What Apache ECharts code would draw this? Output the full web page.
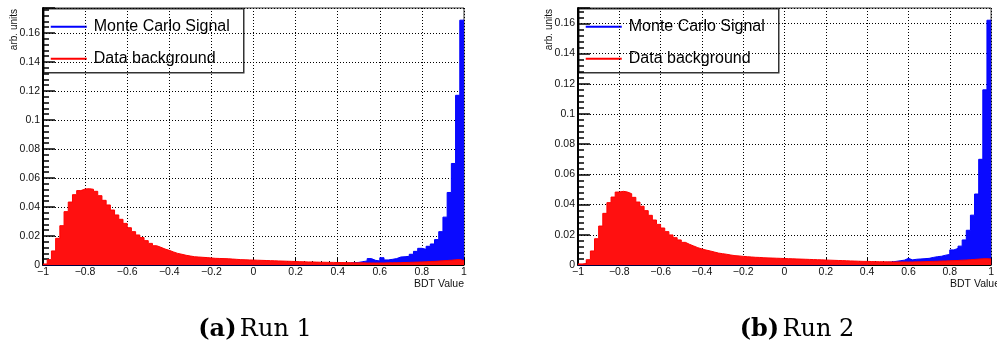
<!DOCTYPE html>
<html><head><meta charset="utf-8">
<script src="https://cdn.jsdelivr.net/npm/echarts@6/dist/echarts.min.js"></script>
<style>html,body{margin:0;padding:0;background:#fff}#c{width:997px;height:343px}</style>
</head><body><div id="c"></div>
<script>
// ---- data (bin contents, 100 bins of width 0.02 from -1 to 1) ----
const binLow = -1, binWidth = 0.02;
const xTicks = [-1, -0.8, -0.6, -0.4, -0.2, 0, 0.2, 0.4, 0.6, 0.8, 1];
const yTicks = [0, 0.02, 0.04, 0.06, 0.08, 0.1, 0.12, 0.14, 0.16];

const run1Background = [
 0.0007,0.0037,0.0097,0.0184,0.0271,0.0368,0.0434,0.0485,0.0513,0.0524,
 0.0526,0.0522,0.0508,0.0478,0.0446,0.0414,0.0379,0.0345,0.0315,0.0287,
 0.0257,0.0230,0.0207,0.0189,0.0168,0.0149,0.0133,0.0122,0.0110,0.0101,
 0.0090,0.0080,0.0074,0.0067,0.0062,0.0057,0.0055,0.0053,0.0051,0.0048,
 0.0046,0.0045,0.0044,0.0043,0.0041,0.0039,0.0037,0.0036,0.0035,0.0034,
 0.0033,0.0032,0.0031,0.0030,0.0029,0.0028,0.0027,0.0026,0.0025,0.0024,
 0.0023,0.0022,0.0021,0.0021,0.0020,0.0019,0.0019,0.0018,0.0018,0.0017,
 0.0017,0.0016,0.0016,0.0015,0.0015,0.0015,0.0014,0.0014,0.0014,0.0014,
 0.0014,0.0015,0.0015,0.0016,0.0016,0.0017,0.0018,0.0019,0.0020,0.0021,
 0.0022,0.0024,0.0025,0.0027,0.0029,0.0031,0.0033,0.0036,0.0038,0.0030];
const run1Signal = [
 0,0,0,0,0,0,0,0,0,0, 0,0,0,0,0,0,0,0,0,0,
 0,0,0,0,0,0,0,0,0,0, 0,0,0,0,0,0,0,0,0,0,
 0,0,0,0,0,0,0,0,0,0, 0,0,0,0,0,0,0,0,0,0,
 0,0,0,0,0,0,0,0,0,0,
 0.0009,0.0011,0.0014,0.0016,0.0018,0.0023,0.0028,0.0044,0.0032,0.0028,
 0.0050,0.0035,0.0039,0.0044,0.0055,0.0057,0.0060,0.0074,0.0094,0.0115,
 0.0108,0.0129,0.0145,0.0175,0.0230,0.0330,0.0500,0.0700,0.1170,0.1688];

const run2Background = [
 0.0007,0.0010,0.0035,0.0093,0.0174,0.0258,0.0342,0.0413,0.0450,0.0483,
 0.0488,0.0483,0.0472,0.0448,0.0417,0.0389,0.0360,0.0329,0.0298,0.0269,
 0.0245,0.0221,0.0199,0.0181,0.0166,0.0150,0.0137,0.0126,0.0115,0.0106,
 0.0099,0.0093,0.0086,0.0079,0.0075,0.0071,0.0066,0.0062,0.0060,0.0057,
 0.0055,0.0053,0.0051,0.0050,0.0048,0.0047,0.0046,0.0045,0.0044,0.0043,
 0.0042,0.0041,0.0040,0.0039,0.0038,0.0037,0.0036,0.0035,0.0034,0.0033,
 0.0032,0.0031,0.0030,0.0029,0.0028,0.0027,0.0026,0.0025,0.0024,0.0024,
 0.0023,0.0022,0.0022,0.0021,0.0021,0.0020,0.0020,0.0020,0.0020,0.0020,
 0.0020,0.0021,0.0021,0.0022,0.0023,0.0024,0.0025,0.0026,0.0027,0.0028,
 0.0029,0.0030,0.0032,0.0033,0.0035,0.0037,0.0039,0.0041,0.0042,0.0040];
const run2Signal = [
 0,0,0,0,0,0,0,0,0,0, 0,0,0,0,0,0,0,0,0,0,
 0,0,0,0,0,0,0,0,0,0, 0,0,0,0,0,0,0,0,0,0,
 0,0,0,0,0,0,0,0,0,0, 0,0,0,0,0,0,0,0,0,0,
 0,0,0,0,0,0,0,0,0,0,
 0.0010,0.0012,0.0014,0.0016,0.0018,0.0020,0.0024,0.0028,0.0032,0.0044,
 0.0034,0.0038,0.0040,0.0042,0.0044,0.0050,0.0055,0.0058,0.0065,0.0070,
 0.0100,0.0110,0.0125,0.0166,0.0230,0.0330,0.0470,0.0700,0.1160,0.1621];

const seriesNames = ['Monte Carlo Signal', 'Data background'];
const captions = [['(a)', 'Run 1'], ['(b)', 'Run 2']];
const axisTitleX = 'BDT Value';
const axisTitleY = 'arb. units';

// ---- chart ----
const chart = echarts.init(document.getElementById('c'), null, {renderer: 'canvas'});
const FONT = 'Liberation Sans';

function stepData(vals) {
  const d = vals.map((v, i) => [binLow + binWidth * i, v]);
  d.push([binLow + binWidth * vals.length, vals[vals.length - 1]]);
  return d;
}
function fmtNum(v) {
  const s = String(+v.toFixed(4));
  return s.replace('-', '\u2212');
}

const panels = [
  {left: 43, width: 421, ymax: 0.1772, sig: run1Signal, bkg: run1Background},
  {left: 578, width: 422, ymax: 0.1702, sig: run2Signal, bkg: run2Background}
];

const grid = [], xAxis = [], yAxis = [], series = [];
panels.forEach((p, i) => {
  grid.push({left: p.left, top: 8, width: p.width, height: 257, show: true,
    borderColor: '#333', borderWidth: 1, backgroundColor: 'transparent'});
  xAxis.push({type: 'value', gridIndex: i, min: -1, max: 1, interval: 0.2,
    axisLine: {onZero: false, lineStyle: {color: '#000', width: 1}},
    axisTick: {inside: true, length: 8, lineStyle: {color: '#000'}},
    minorTick: {show: true, splitNumber: 5, length: 4, lineStyle: {color: '#000'}},
    splitLine: {show: true, lineStyle: {color: '#000', width: 1, type: [1, 2]}},
    axisLabel: {fontSize: 10.5, fontFamily: FONT, color: '#111', margin: 2,
      formatter: v => xTicks.some(t => Math.abs(t - v) < 1e-6) ? fmtNum(v) : ''}
  });
  yAxis.push({type: 'value', gridIndex: i, min: 0, max: p.ymax, interval: 0.02,
    axisLine: {show: true, onZero: false, lineStyle: {color: '#000', width: 2}},
    axisTick: {inside: true, length: 12, lineStyle: {color: '#000', width: 1.5}},
    minorTick: {show: true, splitNumber: 5, length: 6, lineStyle: {color: '#000', width: 1.5}},
    splitLine: {show: true, lineStyle: {color: '#000', width: 1, type: [1, 2]}},
    axisLabel: {fontSize: 10.5, fontFamily: FONT, color: '#111', margin: 3, showMaxLabel: false,
      formatter: v => yTicks.some(t => Math.abs(t - v) < 1e-6) ? fmtNum(v) : ''}
  });
  series.push({name: seriesNames[0], type: 'line', xAxisIndex: i, yAxisIndex: i,
    data: stepData(p.sig), step: 'end', symbol: 'none', silent: true, animation: false,
    lineStyle: {color: '#0000ff', width: 1}, areaStyle: {color: '#0a0aff', opacity: 1}, z: 2});
  series.push({name: seriesNames[1], type: 'line', xAxisIndex: i, yAxisIndex: i,
    data: stepData(p.bkg), step: 'end', symbol: 'none', silent: true, animation: false,
    lineStyle: {color: '#ff0000', width: 1}, areaStyle: {color: '#ff1010', opacity: 1}, z: 3});
});

const graphic = [];
panels.forEach((p, i) => {
  graphic.push({type: 'group', left: p.left, top: 8, z: 100, children: [
    {type: 'rect', shape: {x: 0, y: 0, width: 200, height: 64},
      style: {fill: '#fff', stroke: '#333', lineWidth: 1.5}},
    {type: 'line', shape: {x1: 7, y1: 18, x2: 43, y2: 18}, style: {stroke: '#0000ff', lineWidth: 2}},
    {type: 'line', shape: {x1: 7, y1: 50, x2: 43, y2: 50}, style: {stroke: '#ff0000', lineWidth: 2}},
    {type: 'text', x: 50, y: 18, style: {text: seriesNames[0], fontSize: 16, fontFamily: FONT, fill: '#000', verticalAlign: 'middle'}},
    {type: 'text', x: 50, y: 50, style: {text: seriesNames[1], fontSize: 16, fontFamily: FONT, fill: '#000', verticalAlign: 'middle'}}
  ]});
  graphic.push({type: 'text', x: p.left - 29, y: 9, rotation: Math.PI / 2, z: 100,
    style: {text: axisTitleY, fontSize: 10, fontFamily: FONT, fill: '#111', align: 'right', verticalAlign: 'middle'}});
  graphic.push({type: 'text', x: p.left + p.width, y: 284, z: 100,
    style: {text: axisTitleX, fontSize: 10.5, fontFamily: FONT, fill: '#111', align: 'right', verticalAlign: 'middle'}});
});
[255, 797].forEach((cx, i) => {
  graphic.push({type: 'text', x: cx, y: 330, z: 100,
    style: {text: '{b|' + captions[i][0] + '} {r|' + captions[i][1] + '}', align: 'center', verticalAlign: 'middle',
      rich: {b: {fontFamily: 'DejaVu Serif', fontWeight: 'bold', fontSize: 24, fill: '#000'},
             r: {fontFamily: 'DejaVu Serif', fontSize: 24, fill: '#000'}}}});
});

chart.setOption({animation: false, backgroundColor: '#fff', grid, xAxis, yAxis, series, graphic});
</script></body></html>
